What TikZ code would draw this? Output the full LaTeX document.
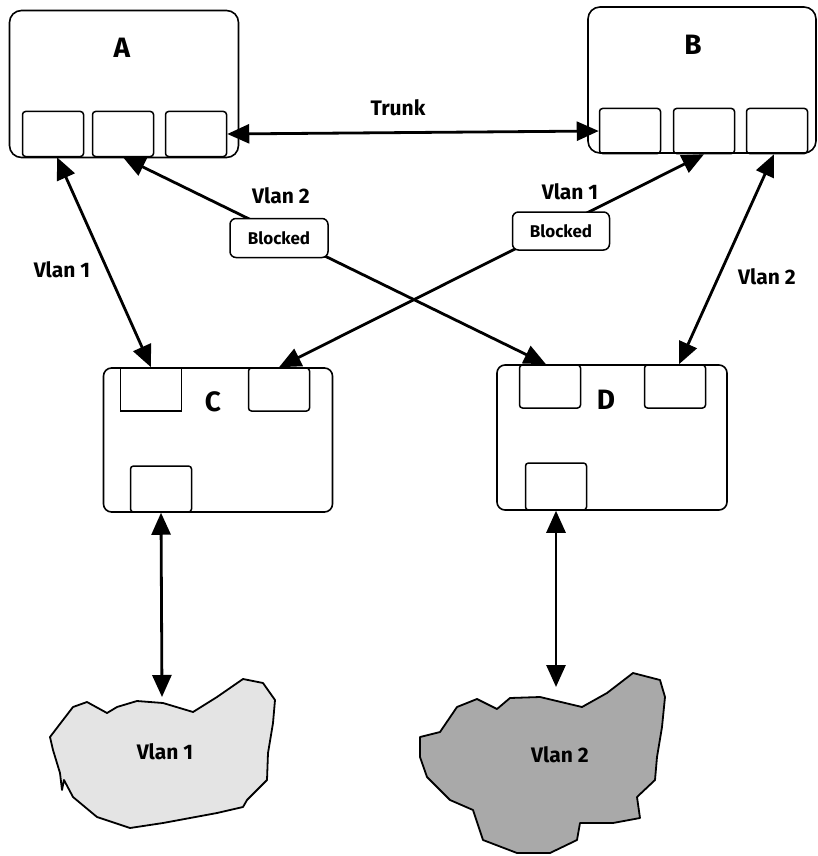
\documentclass[tikz,border=0pt]{standalone}
\usepackage{fontspec}
\setmainfont{Fira Sans}
\usetikzlibrary{arrows.meta}
\definecolor{cloudA}{HTML}{E4E4E4}
\definecolor{cloudB}{HTML}{A9A9A9}
\begin{document}
\begin{tikzpicture}[x=1pt,y=-1pt,
  switchbox/.style={draw, line width=1.6pt, rounded corners=12pt, inner sep=0pt},
  portbox/.style={draw, line width=1.5pt, rounded corners=3pt, inner sep=0pt, minimum width=61pt, minimum height=45pt},
  blockbox/.style={draw, line width=1.5pt, rounded corners=6pt, fill=white, inner sep=0pt, font=\bfseries\fontsize{17}{20}\selectfont},
  lbl/.style={font=\bfseries\fontsize{21}{24}\selectfont, inner sep=0pt},
  big/.style={font=\bfseries\fontsize{28}{32}\selectfont, inner sep=0pt},
  arr/.style={line width=2.8pt, {Triangle[length=22pt,width=19pt]}-{Triangle[length=22pt,width=19pt]}},
  cloud/.style={draw, line width=1.8pt, line join=round}
]
\useasboundingbox (0,0) rectangle (818,856);

% switches
\node[switchbox, minimum width=229pt, minimum height=147pt] (A) at (124,84) {};
\node[big] (Alab) at (122,48) {A};
\node[portbox] (A1) at (53,134) {};
\node[portbox] (A2) at (123,134) {};
\node[portbox] (A3) at (196,134) {};

\node[switchbox, minimum width=228pt, minimum height=146pt] (B) at (702,80) {};
\node[big] (Blab) at (693,45) {B};
\node[portbox] (B1) at (630,131) {};
\node[portbox] (B2) at (704,131) {};
\node[portbox] (B3) at (777,131) {};

\node[switchbox, rounded corners=8pt, minimum width=229pt, minimum height=144pt] (C) at (218,440) {};
\node[big] (Clab) at (213,402) {C};
\node[portbox, rounded corners=0pt, minimum height=43pt] (C1) at (151,389.5) {};
\node[portbox, minimum height=43pt] (C2) at (279,389.5) {};
\node[portbox, minimum height=46pt] (C3) at (161,489) {};

\node[switchbox, rounded corners=8pt, minimum width=230pt, minimum height=145pt] (D) at (612,437.5) {};
\node[big] (Dlab) at (606,400) {D};
\node[portbox, minimum height=43pt] (D1) at (550,386.5) {};
\node[portbox, minimum height=43pt] (D2) at (675,386.5) {};
\node[portbox, minimum height=47pt] (D3) at (556,486.5) {};

% clouds
\draw[cloud, fill=cloudA] (50,737) -- (63,720) -- (73,707) -- (87,702) -- (107,713) -- (117,707)
  -- (137,701) -- (163,703) -- (193,712) -- (217,697) -- (243,679) -- (263,683) -- (275,700)
  -- (273,723) -- (268,753) -- (267,780) -- (247,800) -- (243,807) -- (217,813) -- (163,823)
  -- (130,828) -- (97,817) -- (73,797) -- (64,780) -- (62,790) -- (60,773) -- (53,750) -- cycle;
\node[lbl] (V1) at (165,752) {Vlan 1};
\coordinate (cloud1) at (162,697);

\draw[cloud, fill=cloudB] (420,737) -- (440,732) -- (457,707) -- (477,699) -- (497,709) -- (510,698)
  -- (540,697) -- (582,707) -- (607,693) -- (633,673) -- (660,680) -- (665,697) -- (662,727)
  -- (657,757) -- (655,780) -- (637,797) -- (640,818) -- (613,823) -- (580,823) -- (577,840)
  -- (550,853) -- (517,853) -- (483,840) -- (473,810) -- (450,800) -- (427,777) -- (420,757) -- cycle;
\node[lbl] (V2) at (560,755) {Vlan 2};
\coordinate (cloud2) at (556,687);

% connectors
\draw[arr] (A3.east) -- (B1.west);
\node[lbl] (trunk) at (398,108) {Trunk};

\draw[arr] ([xshift=4pt]A1.south) -- (C1.north);
\node[lbl] (lv1) at (62,270) {Vlan 1};

\draw[arr] (A2.south) -- ([xshift=-4pt]D1.north);
\node[lbl] (lv2a) at (281,196) {Vlan 2};
\node[blockbox, minimum width=98pt, minimum height=39pt] (blk1) at (279,238) {Blocked};

\draw[arr] (B2.south) -- (C2.north);
\node[lbl] (lv1b) at (570,192) {Vlan 1};
\node[blockbox, minimum width=97pt, minimum height=38pt] (blk2) at (561,231) {Blocked};

\draw[arr] ([xshift=-3pt]B3.south) -- ([xshift=4pt]D2.north);
\node[lbl] (lv2b) at (767,277) {Vlan 2};

\draw[arr] (C3.south) -- (cloud1);
\draw[arr] (D3.south) -- (cloud2);
\end{tikzpicture}
\end{document}
